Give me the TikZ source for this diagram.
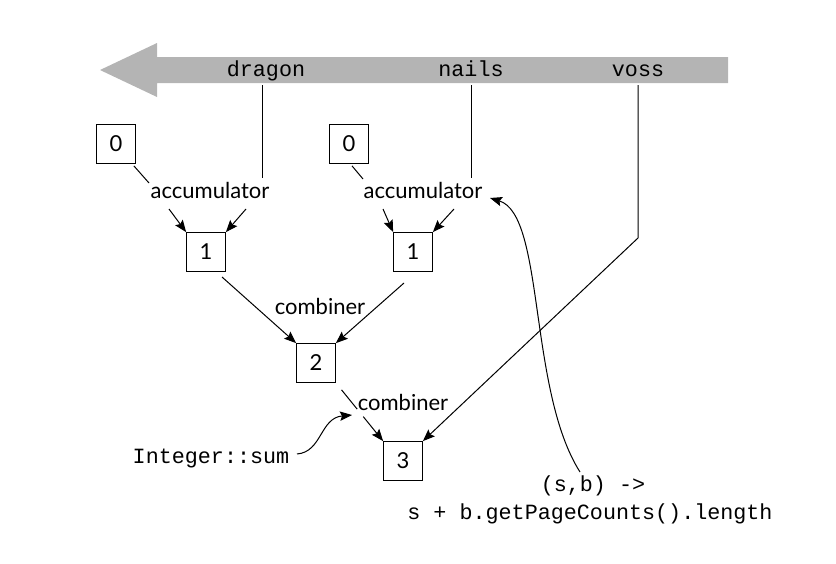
\documentclass[tikz,border=0pt]{standalone}
\usepackage{fontspec}
\setmainfont{Lato}
\setmonofont{Liberation Mono}
\usetikzlibrary{arrows.meta,calc}
\definecolor{band}{HTML}{B4B4B4}
\begin{document}
\begin{tikzpicture}[x=0.75pt,y=-0.75pt,
  lbl/.style={font=\fontsize{16.5}{18}\selectfont, inner sep=1pt},
  tt/.style={font=\ttfamily\fontsize{16.3}{18}\selectfont, inner sep=1pt},
  box/.style={draw, line width=0.8pt, minimum size=29pt, inner sep=0pt, font=\fontsize{16.5}{18}\selectfont},
  ln/.style={line width=0.75pt},
  arr/.style={ln, -{Stealth[length=9pt,width=7pt,inset=1.5pt]}}]
\useasboundingbox (0,0) rectangle (836,564);
% band arrow
\fill[band] (100,70) -- (157,43) -- (157,57) -- (728,57) -- (728,83) -- (157,83) -- (157,97) -- cycle;
\node[tt, anchor=base] (dragon) at (266,76) {dragon};
\node[tt, anchor=base] (nails) at (471,76) {nails};
\node[tt, anchor=base] (voss) at (638,76) {voss};
% boxes
\node[box] (b0l) at (116,144) {0};
\node[box] (b0r) at (349,144) {0};
\node[box] (b1l) at (206,252) {1};
\node[box] (b1r) at (413,252) {1};
\node[box] (b2) at (316,363) {2};
\node[box] (b3) at (403,461) {3};
% labels
\node[lbl] (accl) at (210,190) {accumulator};
\node[lbl] (accr) at (423,190) {accumulator};
\node[lbl] (comb1) at (320,306) {combiner};
\node[lbl] (comb2) at (403,402) {combiner};
\node[tt, anchor=base] (isum) at (211,463) {Integer::sum};
\node[tt, anchor=base] (lam1) at (593,491) {(s,b) ->};
\node[tt, anchor=base] (lam2) at (590,519) {s + b.getPageCounts().length};
% coordinates
\coordinate (dtop) at (262,85);
\coordinate (dbot) at (262,178);
\coordinate (ntop) at (471,85);
\coordinate (nbot) at (471,178);
\coordinate (vtop) at (638,85);
\coordinate (vbend) at (638,238);
\coordinate (a0l) at (149,183);
\coordinate (a0r) at (363,179);
\coordinate (s1) at (169,209);
\coordinate (s2) at (246,209);
\coordinate (s3) at (383,209);
\coordinate (s4) at (454,209);
\coordinate (c1) at (222,277);
\coordinate (c2) at (404,283);
\coordinate (isumend) at (297,454);
\coordinate (tip) at (352,415);
\coordinate (lamend) at (580,472);
\coordinate (accrtip) at (490,198);
% connectors
\draw[ln] (dtop) -- (dbot);
\draw[ln] (ntop) -- (nbot);
\draw[ln] (b0l.south east) ++(-2,2) -- (a0l);
\draw[ln] (b0r.south) ++(3,2) -- (a0r);
\draw[arr] (s1) -- (b1l.north west);
\draw[arr] (s2) -- (b1l.north east);
\draw[arr] (s3) -- (b1r.north west);
\draw[arr] (s4) -- (b1r.north east);
\draw[arr] (c1) -- (b2.north west);
\draw[arr] (c2) -- (b2.north east);
\draw[ln] ($(b2.south east)!0.12!(b3.north west)$) -- ($(b2.south east)!0.45!(b3.north west)$);
\draw[arr] ($(b2.south east)!0.58!(b3.north west)$) -- (b3.north west);
\draw[arr] (vtop) -- (vbend) -- (b3.north east);
\draw[arr] (isumend) .. controls (322,452) and (320,418) .. (tip);
\draw[arr] (lamend) .. controls (528,390) and (545,215) .. (accrtip);
\end{tikzpicture}
\end{document}
